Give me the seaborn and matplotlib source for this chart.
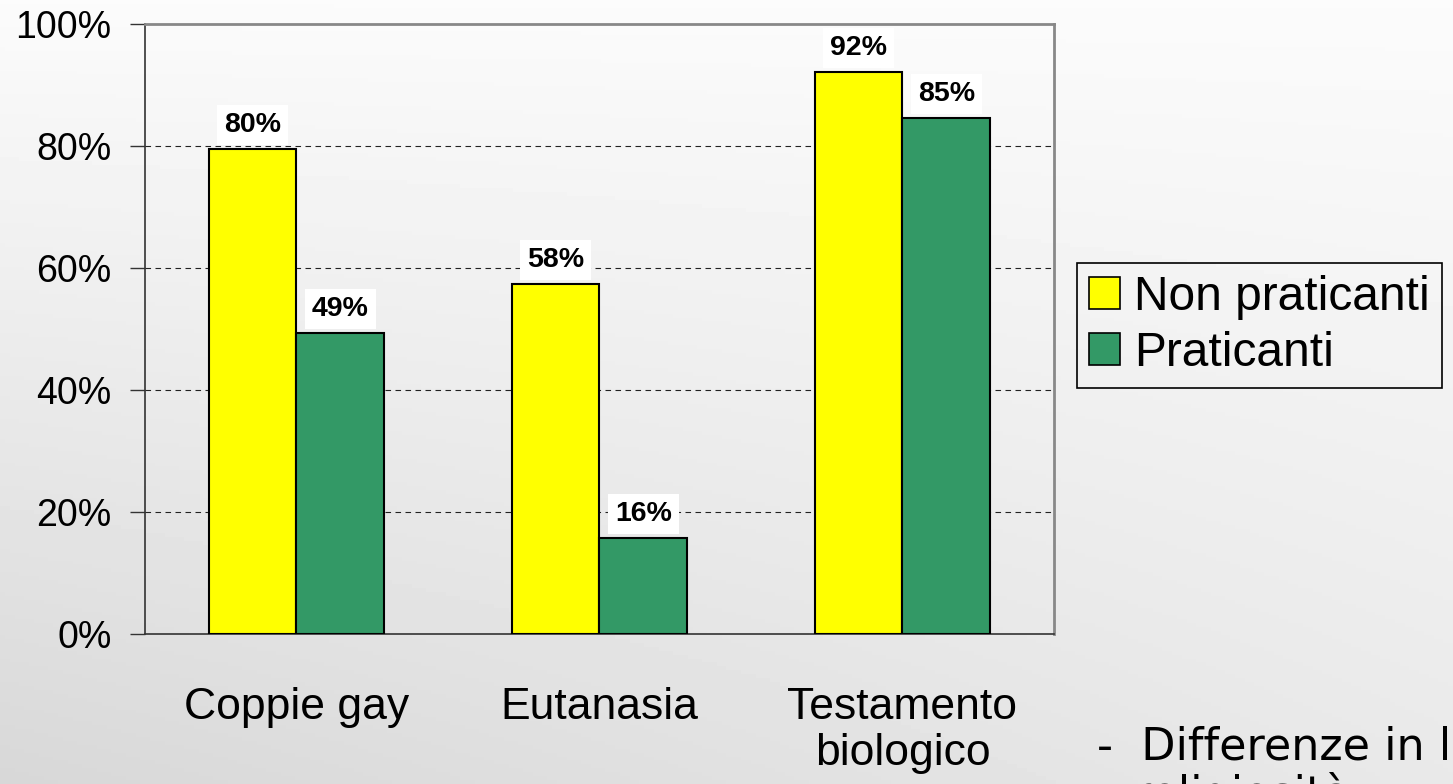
import numpy as np
import pandas as pd
import matplotlib
matplotlib.use("Agg")
import matplotlib.pyplot as plt
import seaborn as sns

# Dati
categorie = ["Coppie gay", "Eutanasia", "Testamento\nbiologico"]
gruppi = ["Non praticanti", "Praticanti"]
non_praticanti = [79.5, 57.4, 92.1]
praticanti = [49.3, 15.7, 84.6]
etichette_np = ["80%", "58%", "92%"]
etichette_p = ["49%", "16%", "85%"]
yticks = [0, 20, 40, 60, 80, 100]
colori = ["#FFFF00", "#339966"]

df = pd.DataFrame({
    "categoria": categorie * 2,
    "gruppo": [gruppi[0]] * 3 + [gruppi[1]] * 3,
    "valore": non_praticanti + praticanti,
})

sns.set_style("white")
plt.rcParams["font.family"] = ["Liberation Sans", "DejaVu Sans"]
plt.rcParams["text.color"] = "black"
plt.rcParams["xtick.color"] = "black"
plt.rcParams["ytick.color"] = "black"

fig = plt.figure(figsize=(14.53, 7.84), dpi=100)

# Sfondo sfumato
ax_bg = fig.add_axes([0, 0, 1, 1], zorder=-10)
xx, yy = np.meshgrid(np.linspace(0, 1, 300), np.linspace(0, 1, 200))
shade = 0.985 - 0.14 * yy * (1 - 0.7 * xx) - 0.03 * yy * xx
ax_bg.imshow(shade, cmap="gray", vmin=0, vmax=1, aspect="auto", extent=[0, 1, 0, 1], origin="upper")
ax_bg.axis("off")

ax = fig.add_axes([145 / 1453, 1 - 634 / 784, (1054 - 145) / 1453, (634 - 24) / 784])
ax.patch.set_alpha(0)

sns.barplot(data=df, x="categoria", y="valore", hue="gruppo", palette=colori,
            width=0.58, edgecolor="black", linewidth=1.5, saturation=1, ax=ax, zorder=3)

# Etichette sopra le barre
for cont, labs in zip(ax.containers, [etichette_np, etichette_p]):
    for bar, lab in zip(cont, labs):
        ax.annotate(lab, (bar.get_x() + bar.get_width() / 2, bar.get_height()),
                    xytext=(0, 8), textcoords="offset points", ha="center", va="bottom",
                    fontsize=20.5, fontweight="bold", zorder=5,
                    bbox=dict(boxstyle="square,pad=0.25", fc="white", ec="none"))

ax.set_ylim(0, 100)
ax.set_xlim(-0.5, 2.5)
ax.set_yticks(yticks)
ax.set_yticklabels([f"{v}%" for v in yticks], fontsize=27)
ax.set_xticks(range(3))
ax.set_xticklabels(categorie, fontsize=32, linespacing=1.15)
ax.set_xticks([-0.5, 0.5, 1.5, 2.5], minor=True)
ax.tick_params(axis="x", which="major", length=0, pad=38)
ax.tick_params(axis="x", which="minor", length=12, width=1, color="#333333", direction="out")
ax.tick_params(axis="y", length=11, width=1, color="#333333", direction="out", pad=13, left=True)
ax.set_xlabel("")
ax.set_ylabel("")

for y in yticks[1:-1]:
    ax.axhline(y, color="#222222", linestyle=(0, (5, 4)), linewidth=0.8, zorder=1)

for side in ["top", "right"]:
    ax.spines[side].set_color("#888888")
    ax.spines[side].set_linewidth(2)
ax.spines["left"].set_color("#333333")
ax.spines["bottom"].set_color("#333333")
ax.spines["left"].set_linewidth(1.2)
ax.spines["bottom"].set_linewidth(1.2)

ax.get_legend().remove()
handles = [plt.Rectangle((0, 0), 1, 1, fc=c, ec="black", lw=1.2) for c in colori]
leg = fig.legend(handles, gruppi, loc="upper left", bbox_to_anchor=(1077 / 1453, 1 - 263 / 784),
                 fontsize=34.5, frameon=True, fancybox=False, edgecolor="black", framealpha=1,
                 handlelength=0.65, handleheight=0.65, handletextpad=0.3, labelspacing=0.22,
                 borderpad=0.25, borderaxespad=0)
leg.get_frame().set_facecolor("none")
leg.get_frame().set_linewidth(1.2)

fig.text(1097 / 1453, 1 - 760 / 784, "-  Differenze in livello di", fontsize=32,
         family="DejaVu Sans", va="baseline", ha="left")
fig.text(1133 / 1453, 1 - 808 / 784, "religiosità", fontsize=32,
         family="DejaVu Sans", va="baseline", ha="left")

fig.savefig("out.png", dpi=100)
